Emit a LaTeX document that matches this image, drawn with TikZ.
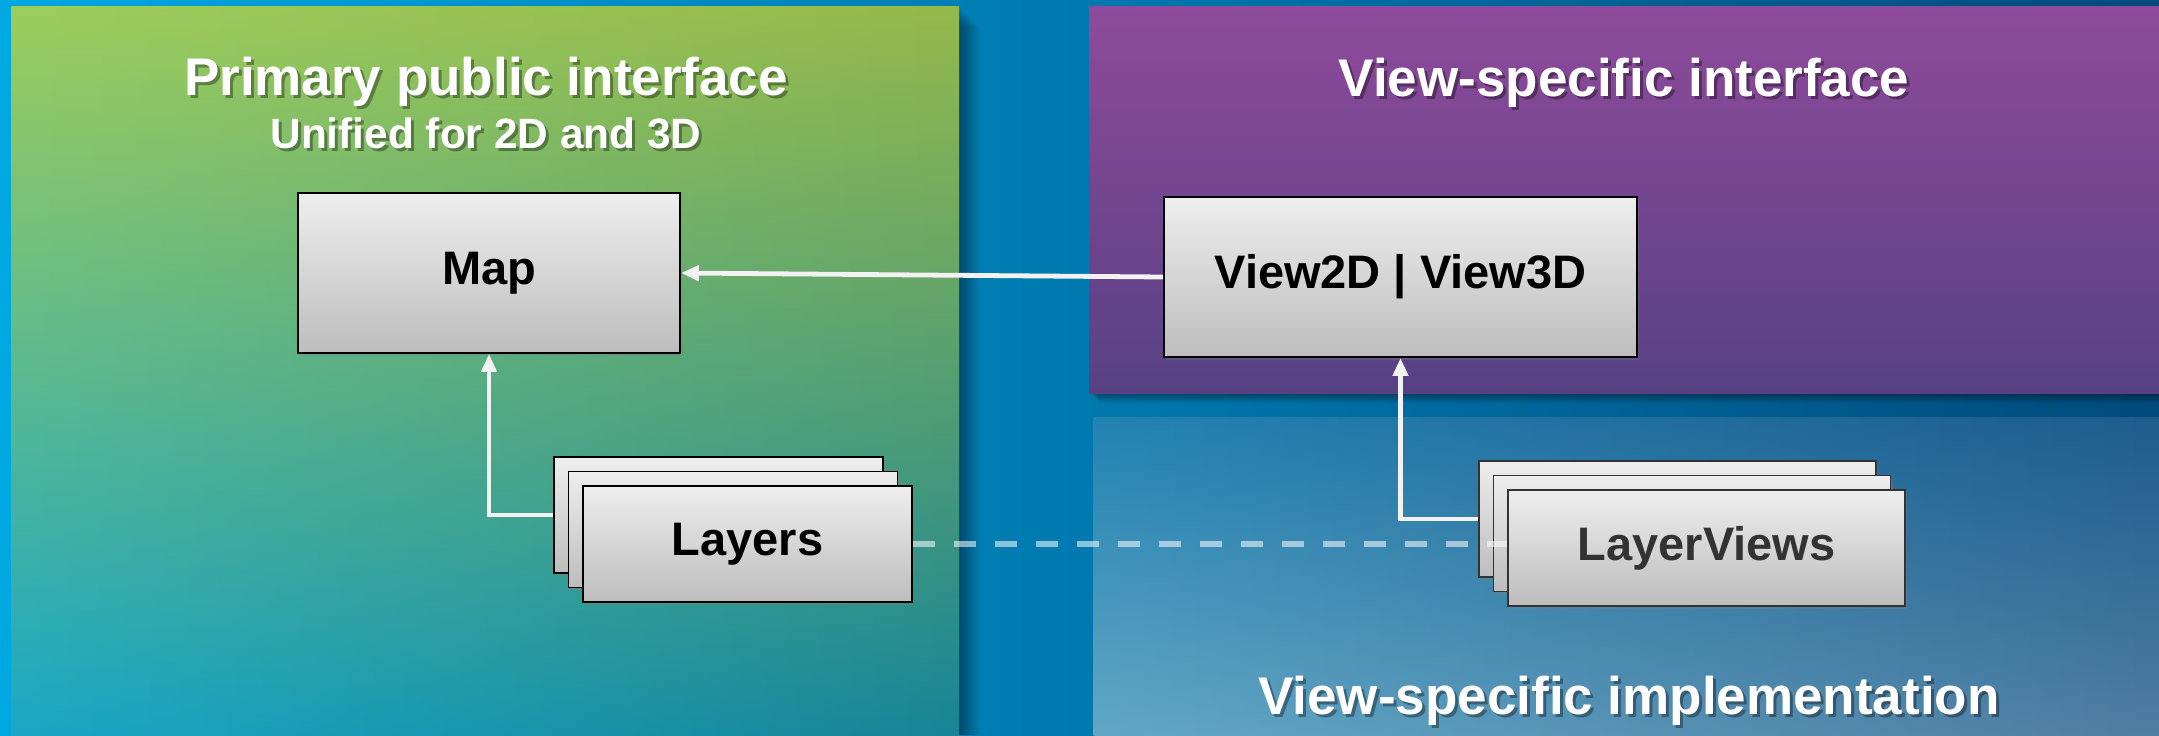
\documentclass[tikz,border=0pt]{standalone}
\usepackage{fontspec}
\setmainfont{Liberation Sans}
\usetikzlibrary{shadows,fadings,arrows.meta}

\definecolor{bgL}{HTML}{00A8E2}
\definecolor{bgM}{HTML}{0072AA}
\definecolor{bgR}{HTML}{004A7C}
\definecolor{grTL}{HTML}{9ECD5C}
\definecolor{grBL}{HTML}{1AA8C6}
\definecolor{grTR}{HTML}{95B94A}
\definecolor{grBR}{HTML}{178597}
\definecolor{puT}{HTML}{8E4A9B}
\definecolor{puB}{HTML}{574184}
\definecolor{blTL}{HTML}{2383B3}
\definecolor{blBL}{HTML}{62A8C6}
\definecolor{blTR}{HTML}{1E5C8C}
\definecolor{blBR}{HTML}{4E7EA2}
\definecolor{boxT}{HTML}{EEEEEE}
\definecolor{boxB}{HTML}{BDBDBD}
\definecolor{lvgray}{HTML}{333333}
\definecolor{arrw}{HTML}{F2F2F2}

\tikzfading[name=fadeR, left color=transparent!0, right color=transparent!100]

\begin{document}
\begin{tikzpicture}[x=0.5pt,y=-0.5pt,
  title/.style={font=\fontsize{26.5}{30}\selectfont\bfseries, text=white, anchor=base, inner sep=0pt},
  subtitle/.style={font=\fontsize{21.2}{24}\selectfont\bfseries, text=white, anchor=base, inner sep=0pt},
  tshadow/.style={text=black, text opacity=0.35},
  box/.style={draw=black, line width=0.9pt, top color=boxT, bottom color=boxB, inner sep=0pt,
    font=\fontsize{23.5}{28}\selectfont\bfseries,
    drop shadow={shadow xshift=1.2pt, shadow yshift=-1.5pt, opacity=0.3}},
  mapbox/.style={box, minimum width=191pt, minimum height=80pt},
  viewbox/.style={box, minimum width=236.5pt, minimum height=80pt},
  lbox/.style={box, minimum width=164.5pt, minimum height=58pt},
  lvbox/.style={box, draw=lvgray, text=lvgray, minimum width=198.5pt, minimum height=58pt},
  conn/.style={draw=arrw, line width=2.4pt, -{Triangle[length=9pt,width=7.5pt]}},
  dashconn/.style={draw=white, draw opacity=0.55, line width=2.8pt, dash pattern=on 11pt off 9.5pt},
  softsh/.style={black, opacity=0.045},
]
\useasboundingbox (0,0) rectangle (2159,735);

% background
\shade[left color=bgL, middle color=bgM, right color=bgR] (0,0) rectangle (2159,735);

% soft panel shadows
\foreach \d in {2,4,...,20} {
  \fill[softsh] (12+\d,6+\d) rectangle (959+\d,735);
}
\foreach \d in {1,2,...,10} {
  \fill[softsh] (1089+\d,6+\d) rectangle (2159,393+\d);
}

% green panel
\shade[top color=grTR, bottom color=grBR] (12,6) rectangle (959,735);
\shade[top color=grTL, bottom color=grBL, path fading=fadeR] (12,6) rectangle (959,735);
% purple panel
\shade[top color=puT, bottom color=puB] (1089,6) rectangle (2159,393);
% blue panel
\shade[top color=blTR, bottom color=blBR] (1094,417) rectangle (2159,735);
\shade[top color=blTL, bottom color=blBL, path fading=fadeR] (1094,417) rectangle (2159,735);

% titles
\node[title, tshadow] (t1s) at (489,98) {Primary public interface};
\node[title] (t1) at (486,95) {Primary public interface};
\node[subtitle, tshadow] (t2s) at (489,151) {Unified for 2D and 3D};
\node[subtitle] (t2) at (486,148) {Unified for 2D and 3D};
\node[title, tshadow] (t3s) at (1627,99) {View-specific interface};
\node[title] (t3) at (1624,96) {View-specific interface};
\node[title, tshadow] (t4s) at (1632,717) {View-specific implementation};
\node[title] (t4) at (1629,714) {View-specific implementation};

% boxes
\node[mapbox] (map) at (489,273) {Map};
\node[viewbox] (view) at (1400.5,277) {View2D | View3D};

\node[lbox] (lback) at (718.5,515) {};
\node[lbox] (lmid) at (733,529.5) {};
\node[lbox] (layers) at (747.5,544) {Layers};

\node[lvbox] (lvback) at (1677.5,519) {};
\node[lvbox] (lvmid) at (1692,533.5) {};
\node[lvbox] (lviews) at (1706.5,548) {LayerViews};

% connectors
\draw[conn] (view.west) -- (map.east);
\draw[conn] (lback.west) -| (map.south);
\draw[conn] (lvback.west) -| (view.south);
\draw[dashconn] (layers.east) -- (layers.east -| lviews.west);
\end{tikzpicture}
\end{document}
